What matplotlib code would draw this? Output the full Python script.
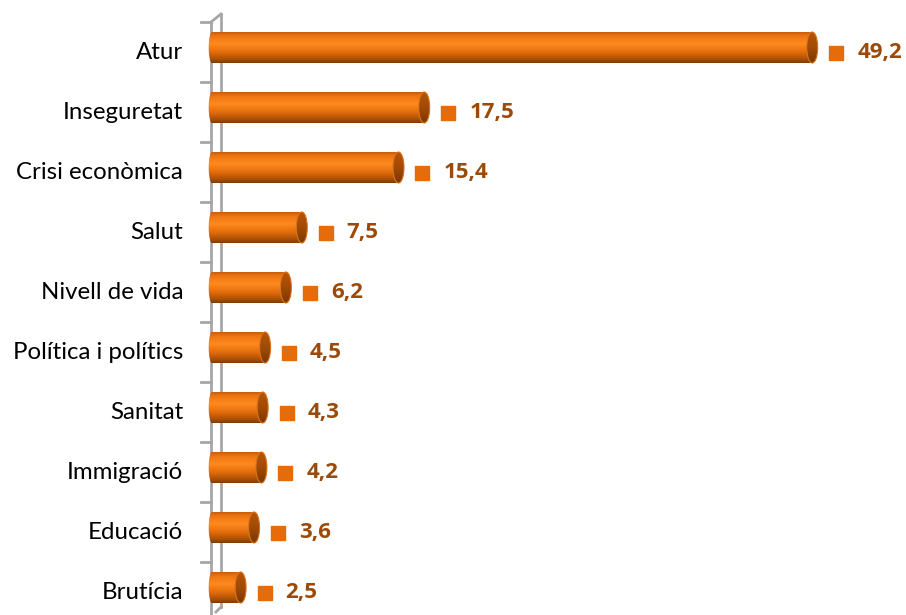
import numpy as np
import matplotlib.pyplot as plt
from matplotlib.patches import Ellipse, Polygon
from matplotlib.colors import LinearSegmentedColormap

categories = ["Atur", "Inseguretat", "Crisi econòmica", "Salut", "Nivell de vida",
              "Política i polítics", "Sanitat", "Immigració", "Educació", "Brutícia"]
values = [49.2, 17.5, 15.4, 7.5, 6.2, 4.5, 4.3, 4.2, 3.6, 2.5]
labels = ["49,2", "17,5", "15,4", "7,5", "6,2", "4,5", "4,3", "4,2", "3,6", "2,5"]

W, H = 906, 615
px_per_unit = 12.24
x0_px = 210
row_px = 60
first_row_px = 47.5

fig = plt.figure(figsize=(W / 100, H / 100), dpi=100)
ax = fig.add_axes([0, 0, 1, 1])
ax.set_xlim(-x0_px / px_per_unit, (W - x0_px) / px_per_unit)
ax.set_ylim((H - first_row_px) / row_px, -first_row_px / row_px)
ax.axis("off")

ux = 1 / px_per_unit   # one pixel in x data units
uy = 1 / row_px        # one pixel in y data units


def py(p):
    # pixel row -> data y
    return (p - first_row_px) / row_px


body_cmap = LinearSegmentedColormap.from_list(
    "body", [(0, "#C85C08"), (0.12, "#EC7412"), (0.38, "#FF8A1E"),
             (0.65, "#E36C0C"), (0.88, "#AA5006"), (1, "#7E3A02")])
cap_cmap = LinearSegmentedColormap.from_list(
    "cap", [(0, "#B65508"), (0.5, "#A24A04"), (1, "#7A3802")])

half_h = 15.5 * uy
cap_w = 5.5 * ux
grad = np.linspace(0, 1, 256).reshape(-1, 1)

# axis wall
gray = "#A6A6A6"
ax.plot([1 * ux, 1 * ux], [py(22), py(615)], color=gray, lw=2, zorder=1)
ax.plot([11 * ux, 11 * ux], [py(14), py(607)], color=gray, lw=2, zorder=1)
ax.plot([1 * ux, 11 * ux], [py(22), py(14)], color=gray, lw=2, zorder=1)
ax.plot([11 * ux, 6 * ux], [py(607), py(612)], color=gray, lw=2, zorder=1)
for k in range(len(categories)):
    ty = k - 0.5 + 4 * uy
    ax.plot([-9 * ux, 1 * ux], [ty, ty], color=gray, lw=2, zorder=1)

for i, (v, lab) in enumerate(zip(values, labels)):
    x1 = v
    xs = 2 * ux
    t = np.linspace(np.pi / 2, 3 * np.pi / 2, 40)
    left = np.column_stack([xs + cap_w * np.cos(t) * 0.6, i + half_h * -np.sin(t)])
    t2 = np.linspace(-np.pi / 2, np.pi / 2, 40)
    right = np.column_stack([x1 + cap_w * np.cos(t2), i + half_h * np.sin(t2)])
    poly = Polygon(np.vstack([left[::-1], right]), closed=True,
                   facecolor="none", edgecolor="none")
    ax.add_patch(poly)
    im = ax.imshow(grad, extent=(xs - cap_w, x1 + cap_w, i + half_h, i - half_h),
                   cmap=body_cmap, aspect="auto", zorder=2, interpolation="bilinear")
    im.set_clip_path(poly)

    cap = Ellipse((x1, i), 2 * cap_w, 2 * half_h, facecolor="none", edgecolor="none")
    ax.add_patch(cap)
    im2 = ax.imshow(grad, extent=(x1 - cap_w, x1 + cap_w, i + half_h, i - half_h),
                    cmap=cap_cmap, aspect="auto", zorder=3, interpolation="bilinear")
    im2.set_clip_path(cap)
    ax.add_patch(Ellipse((x1, i), 2 * cap_w, 2 * half_h, facecolor="none",
                         edgecolor="#D8741E", lw=0.8, zorder=4))

    ly = i + 5 * uy
    ax.scatter([x1 + 24 * ux], [ly], marker="s", s=95, color="#E46C0A", zorder=5)
    ax.text(x1 + 45 * ux, ly, lab, ha="left", va="center", fontsize=16,
            fontweight="bold", color="#9C4A08", family="Open Sans")
    ax.text(-27 * ux, ly, categories[i], ha="right", va="center", fontsize=17.3,
            color="black", family="Lato")

fig.savefig("out.png", dpi=100)
